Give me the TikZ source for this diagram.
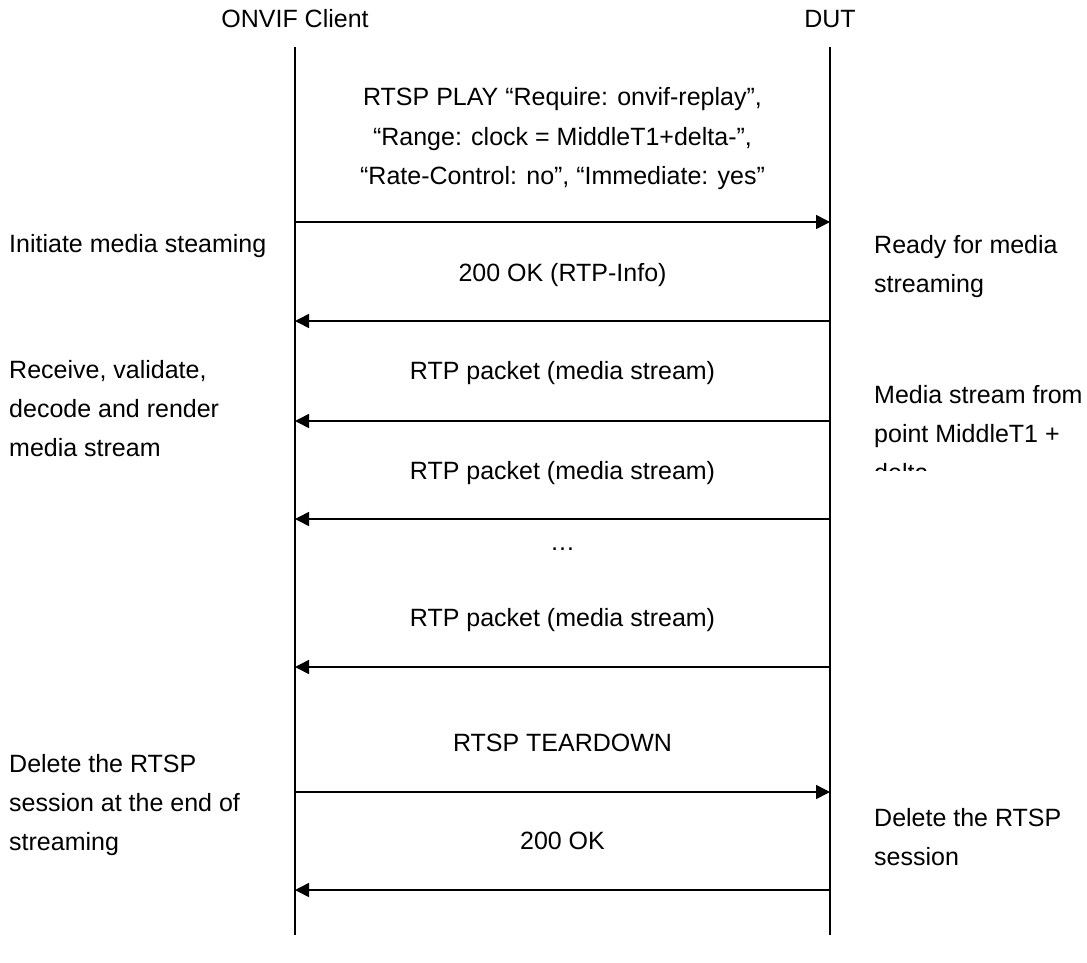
\documentclass[tikz,border=0pt]{standalone}
\usepackage{fontspec}
\setmainfont{Liberation Sans}
\usetikzlibrary{arrows.meta, positioning}

\begin{document}
\begin{tikzpicture}[
  x=1pt, y=-1pt,
  every node/.style={font=\fontsize{25}{39}\selectfont, inner sep=0pt},
  titulo/.style={anchor=base},
  rotulo/.style={anchor=base, align=center},
  lado/.style={anchor=base west, align=left},
  vida/.style={line width=1.6pt},
  seta/.style={-{Triangle[length=14pt, width=14pt]}, line width=1.6pt}
]
\useasboundingbox (0,0) rectangle (1087,963);

\node[titulo] (client) at (295,28) {ONVIF Client};
\node[titulo] (dut)    at (830,28) {DUT};

\coordinate (ctop) at (295,47);
\coordinate (cbot) at (295,935);
\coordinate (dtop) at (830,47);
\coordinate (dbot) at (830,935);
\draw[vida] (ctop) -- (cbot);
\draw[vida] (dtop) -- (dbot);

\node[rotulo] (play) at (562.5,184) {RTSP PLAY “Require: onvif-replay”,\\
                                     “Range: clock = MiddleT1+delta-”,\\
                                     “Rate-Control: no”, “Immediate: yes”};
\draw[seta] (ctop |- 0,222) -- (dtop |- 0,222);

\node[rotulo] (ok1) at (562.5,281) {200 OK (RTP-Info)};
\draw[seta] (dtop |- 0,321) -- (ctop |- 0,321);

\node[rotulo] (rtp1) at (562.5,379) {RTP packet (media stream)};
\draw[seta] (dtop |- 0,421) -- (ctop |- 0,421);

\node[rotulo] (rtp2) at (562.5,479) {RTP packet (media stream)};
\draw[seta] (dtop |- 0,519) -- (ctop |- 0,519);

\node[rotulo] (dots) at (562.5,550) {…};

\node[rotulo] (rtp3) at (562.5,626) {RTP packet (media stream)};
\draw[seta] (dtop |- 0,667) -- (ctop |- 0,667);

\node[rotulo] (tear) at (562.5,751) {RTSP TEARDOWN};
\draw[seta] (ctop |- 0,792) -- (dtop |- 0,792);

\node[rotulo] (ok2) at (562.5,849) {200 OK};
\draw[seta] (dtop |- 0,890) -- (ctop |- 0,890);

\node[lado] (init)   at (9,252) {Initiate media steaming};
\node[lado] (recv)   at (9,456) {Receive, validate,\\decode and render\\media stream};
\node[lado] (delc)   at (9,850) {Delete the RTSP\\session at the end of\\streaming};

\node[lado] (ready)  at (874,292) {Ready for media\\streaming};
\begin{scope}
  \clip (860,360) rectangle (1087,470);
  \node[lado] (media) at (874,481) {Media stream from\\point MiddleT1 +\\delta};
\end{scope}
\node[lado] (deld)   at (874,865) {Delete the RTSP\\session};

\end{tikzpicture}
\end{document}
